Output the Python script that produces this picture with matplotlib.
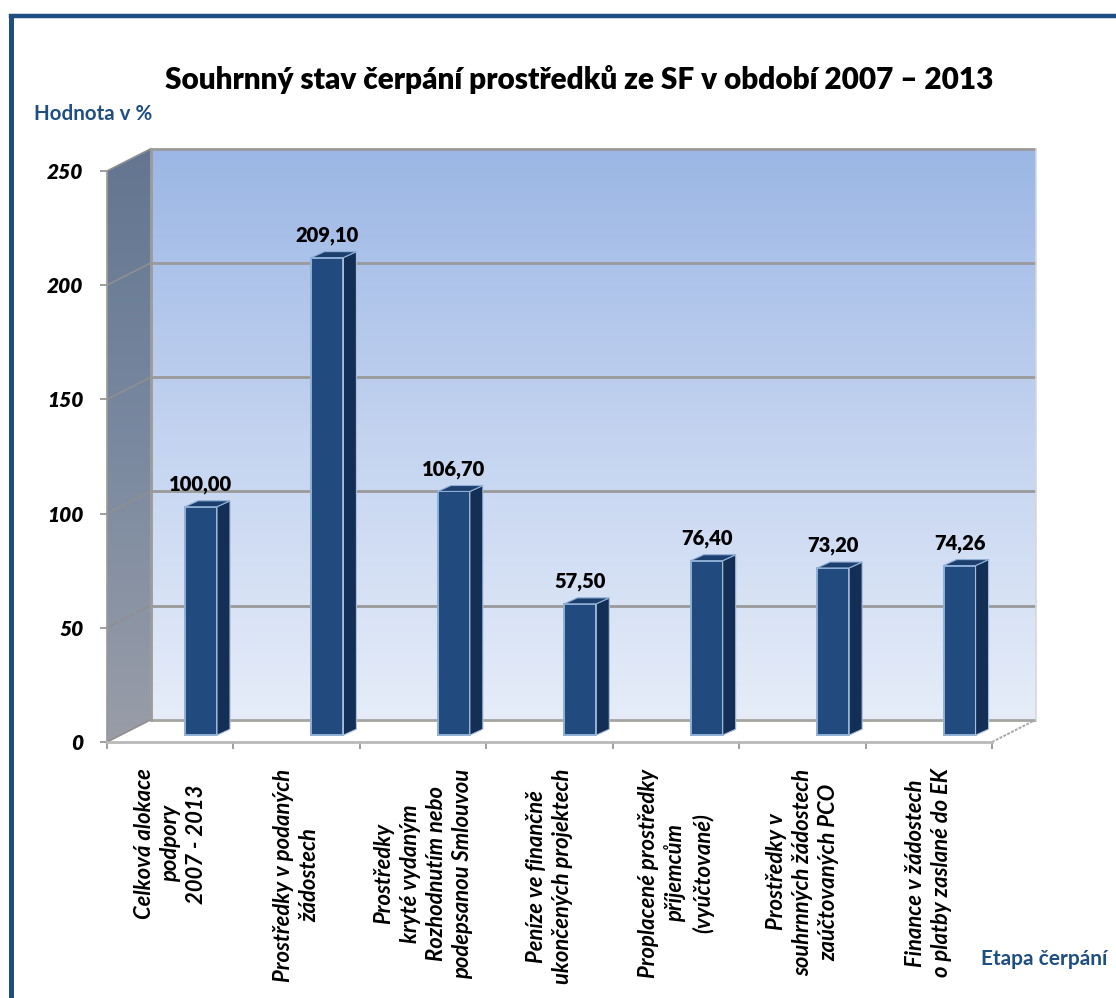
import numpy as np
import matplotlib
matplotlib.use("Agg")
import matplotlib.pyplot as plt
from matplotlib.patches import Polygon
from matplotlib.lines import Line2D
from matplotlib.colors import LinearSegmentedColormap

plt.rcParams["font.family"] = ["Lato", "DejaVu Sans"]

categories = [
    "Celková alokace\npodpory\n2007 - 2013",
    "Prostředky v podaných\nžádostech",
    "Prostředky\nkryté vydaným\nRozhodnutím nebo\npodepsanou Smlouvou",
    "Peníze ve finančně\nukončených projektech",
    "Proplacené prostředky\npříjemcům\n(vyúčtované)",
    "Prostředky v\nsouhrnných žádostech\nzaúčtovaných PCO",
    "Finance v žádostech\no platby zaslané do EK",
]
values = [100.00, 209.10, 106.70, 57.50, 76.40, 73.20, 74.26]
value_labels = ["100,00", "209,10", "106,70", "57,50", "76,40", "73,20", "74,26"]
y_ticks = [0, 50, 100, 150, 200, 250]

W, H = 1116, 998
BLUE = "#1f4e82"
# 3d look, in data units
wall_dx, wall_dy = 0.345, 9.7
bar_offset, bar_w, bar_dx, bar_dy = 0.617, 0.253, 0.103, 2.6
bar_base = 3.0
n = len(values)

fig = plt.figure(figsize=(W / 100, H / 100), dpi=100)
ax = fig.add_axes([107 / W, (H - 742) / H, 885 / W, 571 / H])
ax.patch.set_visible(False)

# back wall
cmap = LinearSegmentedColormap.from_list("wall", ["#9cb7e5", "#c3d3f0", "#e6edf9"])
grad = np.linspace(0, 1, 256).reshape(-1, 1)
ax.imshow(grad, cmap=cmap, aspect="auto", zorder=1, clip_on=False,
          extent=(wall_dx, n + wall_dx, wall_dy, 250 + wall_dy))

# left wall
side_cmap = LinearSegmentedColormap.from_list("side", ["#637590", "#7a89a0", "#999da8"])
im = ax.imshow(grad, cmap=side_cmap, aspect="auto", zorder=1,
               extent=(0, wall_dx, 0, 250 + wall_dy))
clip = Polygon([(0, 0), (wall_dx, wall_dy), (wall_dx, 250 + wall_dy), (0, 250)],
               transform=ax.transData, fill=False, edgecolor="none")
ax.add_patch(clip)
im.set_clip_path(clip)
im.set_clip_box(fig.bbox)  # image falls back to the axes box otherwise
ax.set_xlim(0, n)
ax.set_ylim(0, 250)

# floor
ax.add_patch(Polygon([(0, 0), (wall_dx, wall_dy), (n + wall_dx, wall_dy), (n, 0)],
                     facecolor="white", edgecolor="none", zorder=2, clip_on=False))
ax.plot([n, n + wall_dx], [0, wall_dy], color="#a8a8a8", lw=1.4, ls=(0, (1.5, 0.7)), zorder=2, clip_on=False)

# grid on both walls
for v in y_ticks:
    ax.plot([wall_dx, n + wall_dx], [v + wall_dy, v + wall_dy], color="#9a9a9a" if v else "#a5a5a0",
            lw=2.0, zorder=3, clip_on=False, solid_capstyle="butt")
    ax.plot([0, wall_dx], [v, v + wall_dy], color="#8f8f8f", lw=1.2, zorder=3, clip_on=False)
ax.plot([wall_dx, wall_dx], [wall_dy, 250 + wall_dy], color="#9a9a9a", lw=2.0, zorder=3, clip_on=False)
ax.plot([n + wall_dx, n + wall_dx], [wall_dy, 250 + wall_dy], color="#d4d8df", lw=1.2, zorder=3, clip_on=False)
ax.plot([0, 0], [0, 250], color="#9a9a9a", lw=1.2, zorder=3, clip_on=False)

# bars
for i, (v, lab) in enumerate(zip(values, value_labels)):
    x0 = i + bar_offset
    x1 = x0 + bar_w
    top = bar_base + v
    ax.bar(x0, v, width=bar_w, bottom=bar_base, align="edge", color="#214a7e",
           edgecolor="#8fb0d6", linewidth=1.4, zorder=5)
    ax.add_patch(Polygon([(x1, bar_base), (x1 + bar_dx, bar_base + bar_dy),
                          (x1 + bar_dx, top + bar_dy), (x1, top)],
                         facecolor="#142f55", edgecolor="#a9c0dc", linewidth=0.8, zorder=5))
    ax.add_patch(Polygon([(x0, top), (x0 + bar_dx, top + bar_dy),
                          (x1 + bar_dx, top + bar_dy), (x1, top)],
                         facecolor="#1c3f6e", edgecolor="#8fb0d6", linewidth=0.8, zorder=5))
    ax.annotate(lab, (x0 + bar_w / 2, top), xytext=(0, 9), textcoords="offset points",
                ha="center", va="bottom", fontsize=14.5, fontweight="heavy", color="black", zorder=6)

# axes
for s in ["top", "right"]:
    ax.spines[s].set_visible(False)
ax.spines["left"].set_color("#8f8f8f")
ax.spines["bottom"].set_color("#b9b9b9")
ax.spines["bottom"].set_linewidth(2)
ax.spines["bottom"].set_zorder(4)
ax.set_yticks(y_ticks)
ax.set_yticklabels([str(v) for v in y_ticks], fontsize=15, fontweight="heavy", fontstyle="italic")
ax.tick_params(axis="y", length=5, width=1.2, color="#8f8f8f", pad=12)
ax.set_xticks(np.arange(n + 1))
ax.set_xticklabels([""] * (n + 1))
ax.tick_params(axis="x", length=5, width=1.2, color="#8f8f8f")
for i, c in enumerate(categories):
    ax.annotate(c, (i + 0.5, 0), xytext=(0, -19), textcoords="offset points", rotation=90,
                ha="center", va="top", multialignment="center", fontsize=15.8,
                fontstyle="italic", fontweight="bold", linespacing=1.3, annotation_clip=False)

# title and axis names
fig.text(579 / W, 1 - 79 / H, "Souhrnný stav čerpání prostředků ze SF v období 2007 – 2013",
         ha="center", va="center", fontsize=21.4, fontweight="heavy", color="black")
fig.text(34 / W, 1 - 114 / H, "Hodnota v %", ha="left", va="center",
         fontsize=14.8, fontweight="bold", color=BLUE)
fig.text(1107 / W, 1 - 959 / H, "Etapa čerpání", ha="right", va="center",
         fontsize=15, fontweight="bold", color=BLUE)

# outer frame, runs off the right and bottom edges
fig.add_artist(Line2D([10.5 / W, 10.5 / W], [0, 1 - 16 / H], color=BLUE, lw=3.6,
                      transform=fig.transFigure, solid_capstyle="projecting"))
fig.add_artist(Line2D([10.5 / W, 1], [1 - 16 / H, 1 - 16 / H], color=BLUE, lw=3.2,
                      transform=fig.transFigure, solid_capstyle="projecting"))

fig.savefig("out.png", dpi=100)
